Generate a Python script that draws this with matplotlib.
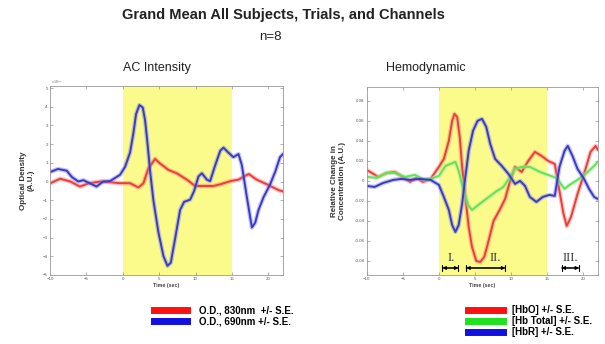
import matplotlib.pyplot as plt

# ==================== DATA ====================

# AC Intensity panel (optical density, x 10^-3)
od_time_690 = [-10, -8.9, -7.7, -7.0, -6.1, -5.4, -4.5, -3.6, -2.7, -1.75, -0.37, 0.32, 1.0,
               1.46, 1.83, 2.29, 2.75, 3.07, 3.39, 3.76, 4.21, 4.9, 5.59, 6.14, 6.6, 7.19,
               7.88, 8.43, 9.26, 9.81, 10.4, 10.87, 11.55, 12.0, 12.7, 13.4, 13.84, 14.5,
               15.2, 15.9, 16.36, 17.05, 17.74, 18.2, 18.65, 19.34, 20.25, 20.95, 21.6, 22.0]
od_690 = [0.5, 0.67, 0.58, 0.24, 0.0, 0.07, -0.1, -0.27, 0.0, 0.02, 0.36, 0.79, 1.55, 2.58,
          3.61, 4.09, 3.95, 3.26, 2.07, 0.53, -1.01, -2.72, -3.99, -4.51, -4.34, -3.06, -1.52,
          -1.09, -0.97, -0.5, 0.27, 0.44, 0.1, 0.02, 0.87, 1.65, 1.81, 1.55, 1.3, 1.47, 0.87,
          -0.84, -2.46, -2.2, -1.52, -0.84, -0.15, 0.53, 1.3, 1.47]

od_time_830 = [-10, -8.6, -7.2, -5.9, -4.7, -3.1, -1.75, -0.37, 1.0, 2.15, 2.84, 3.52, 4.44,
               5.13, 6.27, 7.42, 8.8, 9.94, 11.09, 12.46, 13.4, 14.8, 15.9, 17.3, 18.4, 19.8,
               21.4, 22.0]
od_830 = [-0.1, 0.15, 0.0, -0.27, -0.1, 0.0, -0.04, -0.09, -0.09, -0.32, -0.09, 0.7, 1.21,
          0.96, 0.62, 0.44, 0.1, -0.24, -0.24, -0.24, -0.15, 0.02, 0.1, 0.4, 0.1, -0.15,
          -0.46, -0.53]

# Hemodynamic panel
hbo_time = [-10, -9.3, -8.4, -7.2, -6.1, -5.0, -4.0, -3.1, -2.2, -1.14, 0, 0.69, 1.38, 1.84,
            2.16, 2.53, 2.89, 3.22, 3.67, 4.13, 4.59, 5.18, 5.73, 6.28, 6.88, 7.57, 8.49,
            9.17, 9.86, 10.55, 11.47, 12.38, 13.3, 14.22, 15.13, 16.05, 16.7, 17.26, 17.7,
            18.3, 19.2, 20.1, 21.0, 21.7, 22.0]
hbo = [0.011, 0.008, 0.004, 0.008, 0.009, 0.004, -0.001, 0.003, -0.001, 0.002, 0.014, 0.022,
       0.040, 0.060, 0.067, 0.064, 0.044, 0.014, -0.016, -0.046, -0.066, -0.080, -0.081,
       -0.076, -0.060, -0.040, -0.028, -0.018, 0.0, 0.014, 0.009, 0.020, 0.029, 0.025, 0.020,
       0.017, -0.010, -0.033, -0.045, -0.036, -0.013, 0.007, 0.029, 0.035, 0.031]

hbr_time = [-10, -8.9, -7.7, -6.3, -5.2, -4.0, -2.7, -1.14, 0, 0.69, 1.38, 1.84, 2.29, 2.75,
            3.22, 3.67, 4.13, 4.73, 5.36, 5.97, 6.56, 7.11, 7.79, 8.71, 9.63, 10.55, 11.24,
            11.93, 12.6, 13.5, 14.4, 15.3, 16.05, 16.7, 17.4, 17.85, 18.5, 19.2, 20.1, 20.8,
            21.5, 22.0]
hbr = [-0.005, -0.006, -0.002, 0.001, 0.002, 0.001, 0.002, 0.001, -0.004, -0.016, -0.029,
       -0.044, -0.051, -0.044, -0.023, 0.004, 0.030, 0.050, 0.060, 0.062, 0.054, 0.037,
       0.022, 0.015, 0.007, -0.003, 0.0, -0.005, -0.016, -0.021, -0.016, -0.014, -0.015,
       0.014, 0.030, 0.035, 0.025, 0.012, 0.002, -0.008, -0.016, -0.018]

hbt_time = [-10, -8.6, -7.2, -6.1, -4.7, -3.3, -2.0, -1.14, 0, 0.92, 1.61, 2.29, 2.75, 3.44,
            4.13, 4.59, 5.28, 6.19, 7.11, 8.03, 8.94, 9.86, 10.55, 11.47, 12.6, 13.99, 15.13,
            16.3, 17.4, 18.1, 19.2, 20.3, 21.5, 22.0]
hbt = [0.004, 0.003, 0.008, 0.008, 0.004, 0.006, 0.001, 0.002, 0.005, 0.015, 0.017, 0.019,
       0.010, -0.010, -0.025, -0.029, -0.025, -0.020, -0.015, -0.010, -0.006, 0.004, 0.012,
       0.014, 0.014, 0.009, 0.006, 0.003, -0.008, -0.004, 0.001, 0.007, 0.015, 0.019]

stim_window = (0, 15)

# phase markers
phase_labels = ['I.', 'II.', 'III.']
phase_label_x = [1.7, 7.8, 18.2]
phase_start = [0.1, 3.4, 16.6]
phase_end = [3.1, 9.6, 19.8]

# ==================== STYLE ====================

RED = '#e8403a'
GREEN = '#66e05a'
YELLOW = '#fbfb8c'
TICK_SIZE = 3.2


def draw_trace(ax, t, y, color, core):
    # wide pale band for the S.E. then the mean line on top
    ax.plot(t, y, color=color, linewidth=3.2, alpha=0.45, solid_capstyle='round',
            solid_joinstyle='round')
    line, = ax.plot(t, y, color=core, linewidth=1.4, solid_capstyle='round',
                    solid_joinstyle='round')
    return line


def style_axes(ax):
    ax.set_xlim(-10, 22)
    ax.axvspan(stim_window[0], stim_window[1], color=YELLOW, zorder=0, linewidth=0)
    ax.set_xticks([-10, -5, 0, 5, 10, 15, 20])
    ax.tick_params(direction='in', length=2, width=0.4, labelsize=TICK_SIZE,
                   top=True, right=True, colors='#777777', labelcolor='#555555', pad=1.5)
    for s in ax.spines.values():
        s.set_color('#999999')
        s.set_linewidth(0.6)
    ax.set_xlabel('Time (sec)', fontsize=3.8, fontweight='bold', color='#444444', labelpad=1.5)


plt.rcParams['font.family'] = ['Liberation Sans', 'DejaVu Sans']
fig = plt.figure(figsize=(6.05, 3.44), dpi=100)

fig.text(0.468, 0.955, 'Grand Mean All Subjects, Trials, and Channels', ha='center',
         va='center', fontsize=10.5, fontweight='bold', color='#222222')
fig.text(0.447, 0.893, 'n=8', ha='center', va='center', fontsize=9.5, color='#222222')
fig.text(0.26, 0.803, 'AC Intensity', ha='center', va='center', fontsize=9, color='#222222')
fig.text(0.703, 0.803, 'Hemodynamic', ha='center', va='center', fontsize=9, color='#222222')

# ==================== LEFT PANEL ====================

ax1 = fig.add_axes([0.0826, 0.2006, 0.385, 0.549])
style_axes(ax1)
ax1.set_ylim(-5, 5.1)
ax1.set_yticks(range(-5, 6))
l830 = draw_trace(ax1, od_time_830, od_830, '#ff7070', RED)
l690 = draw_trace(ax1, od_time_690, od_690, '#8080ff', '#3c3cb8')
ax1.set_ylabel('Optical Density\n(A.U.)', fontsize=5.8, fontweight='bold', color='#333333',
               labelpad=6)
ax1.text(0.005, 1.0, r'x 10$^{-3}$', transform=ax1.transAxes, fontsize=2.5,
         color='#666666', va='bottom')

# ==================== RIGHT PANEL ====================

ax2 = fig.add_axes([0.606, 0.2006, 0.382, 0.547])
style_axes(ax2)
ax2.set_ylim(-0.094, 0.094)
ax2.set_yticks([-0.08, -0.06, -0.04, -0.02, 0, 0.02, 0.04, 0.06, 0.08])
ax2.set_yticklabels(['-0.08', '-0.06', '-0.04', '-0.02', '0', '0.02', '0.04', '0.06', '0.08'])
lhbo = draw_trace(ax2, hbo_time, hbo, '#ff8080', RED)
lhbt = draw_trace(ax2, hbt_time, hbt, '#a0f090', GREEN)
lhbr = draw_trace(ax2, hbr_time, hbr, '#8080ff', '#3c3cb8')
ax2.set_ylabel('Relative Change in\nConcentration (A.U.)', fontsize=5.8, fontweight='bold',
               color='#333333', labelpad=6)

for lab, lx, x0, x1 in zip(phase_labels, phase_label_x, phase_start, phase_end):
    ax2.annotate('', xy=(x0, -0.087), xytext=(x1, -0.087),
                 arrowprops=dict(arrowstyle='|-|', color='black', linewidth=0.8,
                                 mutation_scale=2.5))
    ax2.annotate('', xy=(x0, -0.087), xytext=(x1, -0.087),
                 arrowprops=dict(arrowstyle='<|-|>', color='black', linewidth=0.8,
                                 mutation_scale=5))
    ax2.text(lx, -0.077, lab, ha='center', va='center', fontsize=9,
             family='Liberation Serif', color='#333333')

# ==================== LEGENDS ====================

h1 = [plt.Line2D([], [], color='#ff1010', linewidth=5),
      plt.Line2D([], [], color='#1010e0', linewidth=5)]
leg1 = fig.legend(h1, ['O.D., 830nm  +/- S.E.', 'O.D., 690nm +/- S.E.'],
                  loc='upper left', bbox_to_anchor=(0.247, 0.127), frameon=False,
                  prop={'size': 7, 'weight': 'bold'}, handlelength=3.4,
                  handletextpad=1.2, labelspacing=0.1, borderpad=0)

h2 = [plt.Line2D([], [], color='#ff1010', linewidth=5),
      plt.Line2D([], [], color='#20e020', linewidth=5),
      plt.Line2D([], [], color='#1010e0', linewidth=5)]
leg2 = fig.legend(h2, ['[HbO] +/- S.E.', '[Hb Total] +/- S.E.', '[HbR] +/- S.E.'],
                  loc='upper left', bbox_to_anchor=(0.766, 0.127), frameon=False,
                  prop={'size': 7, 'weight': 'bold'}, handlelength=3.6,
                  handletextpad=0.9, labelspacing=0.1, borderpad=0)

fig.savefig('out.png', dpi=100)
